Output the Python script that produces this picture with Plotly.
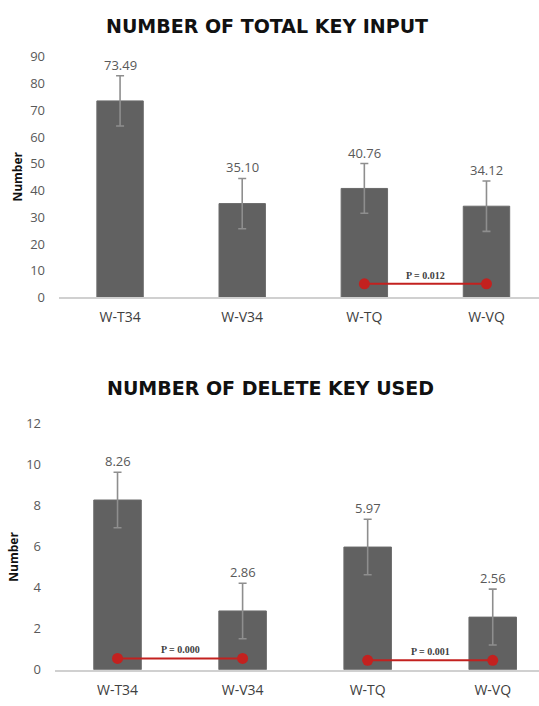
import plotly.graph_objects as go

categories = ["W-T34", "W-V34", "W-TQ", "W-VQ"]
total_key_mean = [73.49, 35.10, 40.76, 34.12]
total_key_err = [9.4, 9.4, 9.3, 9.4]
delete_key_mean = [8.26, 2.86, 5.97, 2.56]
delete_key_err = [1.35, 1.35, 1.35, 1.36]
top_title = "NUMBER OF TOTAL KEY INPUT"
bottom_title = "NUMBER OF DELETE KEY USED"
top_ticks = [0, 10, 20, 30, 40, 50, 60, 70, 80, 90]
bottom_ticks = [0, 2, 4, 6, 8, 10, 12]
# significance comparisons: (cat a, cat b, y level, label)
top_sig = [("W-TQ", "W-VQ", 5.1, "P = 0.012")]
bottom_sig = [("W-T34", "W-V34", 0.55, "P = 0.000"),
              ("W-TQ", "W-VQ", 0.46, "P = 0.001")]

W, H = 539, 706
BAR = "#616161"
ERR = "#8e8e8e"
TXT = "#595959"
RED = "#c3211f"
FONT = "Open Sans"

fig = go.Figure()

def add_panel(xa, ya, means, errs, sig):
    fig.add_trace(go.Bar(
        x=categories, y=means, xaxis=xa, yaxis=ya, width=0.38,
        marker=dict(color=BAR, line=dict(color="#6a6a6a", width=1)),
        error_y=dict(type="data", array=errs, visible=True, color=ERR,
                     thickness=1.6, width=4),
        showlegend=False, hoverinfo="skip"))
    yref = ya
    xref = xa
    for c, m, e in zip(categories, means, errs):
        fig.add_annotation(x=c, y=m + e, xref=xref, yref=yref,
                           text=f"{m:.2f}", showarrow=False, yanchor="bottom",
                           yshift=0, font=dict(family=FONT, size=13, color=TXT))
    for a, b, lvl, lab in sig:
        fig.add_trace(go.Scatter(
            x=[a, b], y=[lvl, lvl], xaxis=xa, yaxis=ya, mode="lines+markers",
            line=dict(color=RED, width=2), marker=dict(color=RED, size=11),
            showlegend=False, hoverinfo="skip"))
        ia, ib = categories.index(a), categories.index(b)
        fig.add_annotation(x=(ia + ib) / 2, y=lvl, xref=xref, yref=yref,
                           text=f"<b>{lab}</b>", showarrow=False,
                           yanchor="bottom", yshift=1,
                           font=dict(family="Liberation Serif", size=10, color="#404040"))

add_panel("x", "y", total_key_mean, total_key_err, top_sig)
add_panel("x2", "y2", delete_key_mean, delete_key_err, bottom_sig)

axis_common = dict(showgrid=False, zeroline=False, ticks="",
                   tickfont=dict(family=FONT, size=13, color=TXT))
xtickfont = dict(family=FONT, size=14, color="#404040")

fig.update_layout(
    width=W, height=H, margin=dict(l=0, r=0, t=0, b=0),
    paper_bgcolor="white", plot_bgcolor="white", bargap=0.62,
    xaxis=dict(domain=[59 / W, 1], anchor="y", type="category",
               range=[-0.5, 3.43], showline=True, linecolor="#d0d0d0",
               linewidth=1.5, ticklabelstandoff=6, showgrid=False,
               zeroline=False, ticks="", tickfont=xtickfont),
    yaxis=dict(domain=[1 - 296 / H, 1 - 49 / H], anchor="x", range=[0, 90],
               tickvals=top_ticks, showline=False, ticklabelstandoff=13,
               **axis_common),
    xaxis2=dict(domain=[55 / W, 1], anchor="y2", type="category",
                range=[-0.5, 3.37], showline=True, linecolor="#d0d0d0",
                linewidth=1.5, ticklabelstandoff=7, showgrid=False,
                zeroline=False, ticks="", tickfont=xtickfont),
    yaxis2=dict(domain=[1 - 678 / H, 1 - 425 / H], anchor="x2", range=[0, 12],
                tickvals=bottom_ticks, showline=False, ticklabelstandoff=13,
                **axis_common),
)

TITLE_FONT = dict(family="DejaVu Sans", size=19, color="#111111")
fig.add_annotation(text=f"<b>{top_title}</b>", x=267 / W, y=1 - 17 / H,
                   xref="paper", yref="paper", showarrow=False,
                   xanchor="center", yanchor="middle", font=TITLE_FONT)
fig.add_annotation(text=f"<b>{bottom_title}</b>", x=270 / W, y=1 - 389 / H,
                   xref="paper", yref="paper", showarrow=False,
                   xanchor="center", yanchor="middle", font=TITLE_FONT)
fig.add_annotation(text="<b>Number</b>", x=18 / W, y=1 - 172 / H,
                   xref="paper", yref="paper", showarrow=False, textangle=-90,
                   xanchor="center", yanchor="middle",
                   font=dict(family=FONT, size=12, color="#111111"))
fig.add_annotation(text="<b>Number</b>", x=14 / W, y=1 - 562 / H,
                   xref="paper", yref="paper", showarrow=False, textangle=-90,
                   xanchor="center", yanchor="middle",
                   font=dict(family=FONT, size=12, color="#111111"))

fig.write_html("out.html")
